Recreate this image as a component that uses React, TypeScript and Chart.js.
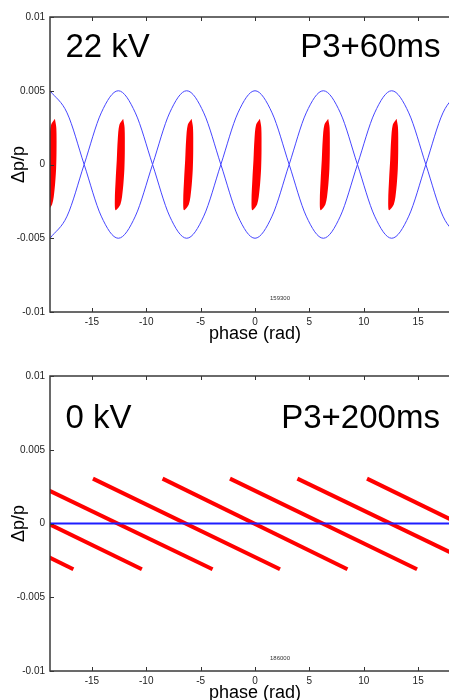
import React, { useEffect, useRef } from 'react';
import { Chart, registerables } from 'chart.js';

Chart.register(...registerables);

const FONT = "'Liberation Sans', Arial, Helvetica, sans-serif";

// ---- axes ----
const phaseMin = -18.85;
const phaseMax = 18.85;
const dpMin = -0.01;
const dpMax = 0.01;
const xTickValues = [-15, -10, -5, 0, 5, 10, 15];
const yTickValues = [-0.01, -0.005, 0, 0.005, 0.01];
const yTickLabels = ['-0.01', '-0.005', '0', '0.005', '0.01'];

// ---- top panel: separatrix (blue) ----
const sepPhase = [
  -18.85, -17.28, -15.71, -14.14, -12.57, -11.0, -9.42, -7.85, -6.28, -4.71, -3.14, -1.57, 0,
  1.57, 3.14, 4.71, 6.28, 7.85, 9.42, 11.0, 12.57, 14.14, 15.71, 17.28, 18.85,
];
const sepUpper = [
  0.005, 0.0035, 0, -0.0035, -0.005, -0.0035, 0, 0.0035, 0.005, 0.0035, 0, -0.0035, -0.005,
  -0.0035, 0, 0.0035, 0.005, 0.0035, 0, -0.0035, -0.005, -0.0035, 0, 0.0035, 0.005,
];
const sepLower = [
  -0.005, -0.0035, 0, 0.0035, 0.005, 0.0035, 0, -0.0035, -0.005, -0.0035, 0, 0.0035, 0.005,
  0.0035, 0, -0.0035, -0.005, -0.0035, 0, 0.0035, 0.005, 0.0035, 0, -0.0035, -0.005,
];

// ---- top panel: bunches (red) ----
const bunchCentres = [-18.85, -12.57, -6.28, 0, 6.28, 12.57, 18.85];
const bunchOutlinePhase = [0.45, 0.58, 0.6, 0.56, 0.42, 0.2, -0.25, -0.32, -0.24, -0.14, -0.05, 0.1, 0.45];
const bunchOutlineDp = [
  0.00311, 0.0025, 0.001, -0.0003, -0.0017, -0.0027, -0.0031, -0.0024, -0.001, 0.0003, 0.0017,
  0.0027, 0.00311,
];

// ---- bottom panel: debunched stripes (red) ----
const stripeStartPhase = [-33.8, -27.5, -21.2, -14.9, -8.5, -2.3, 3.9, 10.3];
const stripeEndPhase = [-16.7, -10.4, -3.9, 2.3, 8.5, 14.9, 21.2, 27.4];
const stripeStartDp = 0.00304;
const stripeEndDp = -0.0031;
const flatPhase = [-18.85, 18.85];
const flatDp = [0, 0];

const framePlugin = {
  id: 'frame',
  afterDatasetsDraw(chart: any, _args: any, opts: any) {
    const { ctx, chartArea: a, scales } = chart;
    const xs = scales.x;
    const ys = scales.y;
    ctx.save();
    ctx.strokeStyle = '#333';
    ctx.lineWidth = 1;
    ctx.beginPath();
    const tl = 4;
    xs.ticks.forEach((t: any) => {
      const px = Math.round(xs.getPixelForValue(t.value)) + 0.5;
      ctx.moveTo(px, a.bottom);
      ctx.lineTo(px, a.bottom - tl);
      ctx.moveTo(px, a.top);
      ctx.lineTo(px, a.top + tl);
    });
    ys.ticks.forEach((t: any) => {
      const py = Math.round(ys.getPixelForValue(t.value)) + 0.5;
      ctx.moveTo(a.left, py);
      ctx.lineTo(a.left + tl, py);
      ctx.moveTo(a.right, py);
      ctx.lineTo(a.right - tl, py);
    });
    ctx.stroke();
    ctx.lineWidth = 1.5;
    ctx.strokeStyle = '#3a3a3a';
    ctx.strokeRect(a.left, a.top, a.right - a.left, a.bottom - a.top);
    (opts.labels || []).forEach((l: any) => {
      ctx.font = `${l.size}px ${FONT}`;
      ctx.fillStyle = l.color || '#000';
      ctx.textAlign = l.align;
      ctx.textBaseline = l.baseline || 'alphabetic';
      ctx.fillText(l.text, xs.getPixelForValue(l.x), ys.getPixelForValue(l.y));
    });
    ctx.restore();
  },
};

function buildConfig(datasets: any[], labels: any[]) {
  return {
    type: 'line',
    data: { datasets },
    options: {
      animation: false,
      responsive: false,
      devicePixelRatio: 1,
      layout: { padding: { left: 0, right: 10, top: 17, bottom: 0 } },
      plugins: {
        legend: { display: false },
        tooltip: { enabled: false },
        frame: { labels },
      },
      elements: { point: { radius: 0 } },
      scales: {
        x: {
          type: 'linear',
          min: phaseMin,
          max: phaseMax,
          grid: { display: false, drawTicks: false, tickLength: 0 },
          border: { display: false },
          afterBuildTicks: (s: any) => {
            s.ticks = xTickValues.map((v) => ({ value: v }));
          },
          afterFit: (s: any) => {
            s.height = 47;
          },
          ticks: {
            font: { family: FONT, size: 10 },
            color: '#222',
            padding: 4,
            maxRotation: 0,
            autoSkip: false,
            callback: (v: any) => String(v),
          },
          title: {
            display: true,
            text: 'phase (rad)',
            font: { family: FONT, size: 18 },
            color: '#000',
            padding: { top: 0, bottom: 14.2 },
          },
        },
        y: {
          type: 'linear',
          min: dpMin,
          max: dpMax,
          grid: { display: false, drawTicks: false, tickLength: 0 },
          border: { display: false },
          afterBuildTicks: (s: any) => {
            s.ticks = yTickValues.map((v) => ({ value: v }));
          },
          afterFit: (s: any) => {
            s.width = 50;
          },
          ticks: {
            font: { family: FONT, size: 10 },
            color: '#222',
            padding: 5,
            autoSkip: false,
            callback: (_v: any, i: number) => yTickLabels[i],
          },
          title: {
            display: true,
            text: 'Δp/p',
            font: { family: FONT, size: 18 },
            color: '#000',
            padding: { top: 8.7, bottom: 0 },
          },
        },
      },
    },
    plugins: [framePlugin],
  };
}

function topDatasets() {
  const sep = (vals: number[]) => ({
    data: sepPhase.map((x, i) => ({ x, y: vals[i] })),
    borderColor: 'rgb(70,70,255)',
    borderWidth: 1,
    pointRadius: 0,
    fill: false,
    cubicInterpolationMode: 'monotone',
    order: 0,
  });
  const bunches = bunchCentres.map((c) => ({
    data: bunchOutlinePhase.map((p, i) => ({ x: c + p, y: bunchOutlineDp[i] })),
    borderColor: '#ff0000',
    backgroundColor: '#ff0000',
    borderWidth: 0,
    pointRadius: 0,
    tension: 0.3,
    fill: 'shape',
    order: 1,
  }));
  return [sep(sepUpper), sep(sepLower), ...bunches];
}

function bottomDatasets() {
  const flat = {
    data: flatPhase.map((x, i) => ({ x, y: flatDp[i] })),
    borderColor: 'rgb(30,30,255)',
    borderWidth: 1.8,
    pointRadius: 0,
    fill: false,
    order: 0,
  };
  const stripes = stripeStartPhase.map((s, i) => ({
    data: [
      { x: s, y: stripeStartDp },
      { x: stripeEndPhase[i], y: stripeEndDp },
    ],
    borderColor: '#ff0000',
    borderWidth: 4,
    pointRadius: 0,
    fill: false,
    order: 1,
  }));
  return [flat, ...stripes];
}

const topLabels = [
  { text: '22 kV', x: -17.43, y: 0.0073, size: 33, align: 'left' },
  { text: 'P3+60ms', x: 17.06, y: 0.0073, size: 33, align: 'right' },
  { text: '159300', x: 2.3, y: -0.00905, size: 6, align: 'center', baseline: 'middle', color: '#333' },
];
const bottomLabels = [
  { text: '0 kV', x: -17.43, y: 0.00647, size: 33, align: 'left' },
  { text: 'P3+200ms', x: 17.0, y: 0.00647, size: 33, align: 'right' },
  { text: '186000', x: 2.3, y: -0.00912, size: 6, align: 'center', baseline: 'middle', color: '#333' },
];

function PhasePlot({ datasets, labels, top }: { datasets: any[]; labels: any[]; top: number }) {
  const ref = useRef<HTMLCanvasElement>(null);
  useEffect(() => {
    const chart = new Chart(ref.current as HTMLCanvasElement, buildConfig(datasets, labels) as any);
    return () => chart.destroy();
  }, []);
  return (
    <canvas
      ref={ref}
      width={470}
      height={359}
      style={{ position: 'absolute', left: 0, top, width: 470, height: 359, display: 'block' }}
    />
  );
}

export default function App() {
  return (
    <div
      style={{
        position: 'fixed',
        left: 0,
        top: 0,
        width: 449,
        height: 700,
        overflow: 'hidden',
        background: '#fff',
      }}
    >
      <PhasePlot datasets={topDatasets()} labels={topLabels} top={0} />
      <PhasePlot datasets={bottomDatasets()} labels={bottomLabels} top={359} />
    </div>
  );
}
